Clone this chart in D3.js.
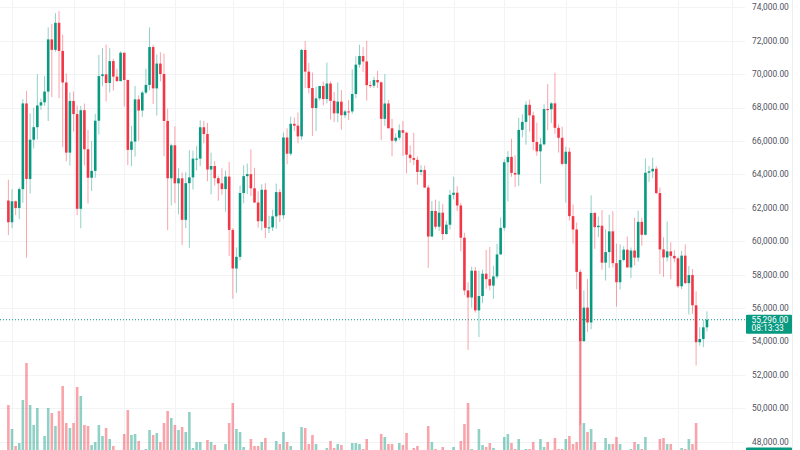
<!DOCTYPE html>
<html>
<head>
<meta charset="utf-8">
<script src="https://cdn.jsdelivr.net/npm/d3@7"></script>
<style>
  html, body { margin: 0; padding: 0; background: #ffffff; }
  svg { display: block; font-family: Roboto, "Noto Sans", sans-serif; }
</style>
</head>
<body>
<svg id="chart" width="800" height="450"></svg>
<script>
// BTC daily candles, Feb 29 -> Sep 9 (2024)
const firstDay = new Date(Date.UTC(2024, 1, 29));

const open = [62432,
  61130, 62387, 61987, 63113, 68245, 63724, 66074, 66823, 68124, 68313, 68955, 72078, 71452, 73072, 71388, 69499,
  65300, 68393, 67609, 61937, 67840, 65501, 63796, 64209, 67211, 69881, 69988, 69469, 70780, 69850, 69582,
  71280, 69649, 65463, 65964, 68488, 67821, 68897, 69353, 71620, 69146, 70631, 70007, 67195, 63765, 65738,
  63462, 63763, 61277, 63470, 63818, 64940, 64941, 66819, 66414, 64289, 64498, 63770, 63461, 63118, 63866,
  60672, 58364, 59060, 62882, 63892, 64012, 63165, 62313, 61193, 63075, 60799, 60825, 61484, 62937, 61552,
  66206, 65235, 67024, 66915, 66274, 71446, 70148, 69166, 67969, 68549, 69290, 68507, 69436, 68398, 67652, 68352,
  67540, 67766, 67765, 68809, 70567, 71082, 70757, 69342, 69305, 69648, 69508, 67322, 68241, 66756, 66012,
  66191, 66639, 66490, 65175, 64974, 64869, 64143, 64262, 63211, 60277, 61806, 60864, 61706, 60427, 60986,
  62772, 62899, 62135, 60208, 57050, 56628, 58230, 55857, 56714, 58050, 57725, 57339, 57889, 59204, 60797,
  64724, 65043, 64087, 63987, 66660, 67139, 68165, 67532, 65936, 65376, 65799, 67907, 67896, 68249, 66784, 66188,
  64628, 65354, 61498, 60697, 58161, 54018, 56022, 55134, 61685, 60837, 60923, 58712, 59346, 60587, 58683,
  57541, 58874, 59491, 58427, 59439, 59014, 61157, 60381, 64095, 64179, 64333, 62880, 59504, 59027, 59388, 59119,
  58969, 57301, 59132, 57487, 57970, 56160, 53950, 54140, 54842];

const high = [63676,
  63114, 62433, 63231, 68499, 69000, 67637, 67980, 69990, 68541, 69887, 72800, 73000, 73650, 73777, 72357, 70043,
  68905, 68956, 68124, 68100, 68240, 66650, 65999, 67628, 71150, 71561, 71769, 71552, 70916, 70321, 71366,
  71288, 69674, 66903, 69292, 68725, 69000, 70327, 72797, 71758, 71172, 71305, 71227, 67932, 65840, 66868,
  64365, 64118, 64125, 65450, 65419, 65695, 67233, 67199, 67075, 65297, 64792, 63923, 64370, 64228, 64735,
  60780, 59625, 63320, 64545, 64646, 65500, 64390, 62984, 63400, 63469, 61515, 61888, 63450, 63118, 66500,
  66752, 67451, 67400, 67700, 71515, 71979, 70666, 70096, 69250, 69220, 69562, 70687, 69561, 68935, 69500, 69044,
  67860, 68460, 70288, 71063, 71758, 71625, 71997, 69582, 69845, 70195, 69565, 69999, 68449, 67320, 66450,
  66988, 67188, 66556, 65727, 66482, 65066, 64546, 64520, 63369, 62400, 62487, 62389, 62225, 61224, 63058,
  63861, 63288, 62285, 60499, 57546, 58475, 58449, 58236, 58296, 59470, 59650, 58526, 59850, 61420, 64900,
  65388, 66128, 65133, 67386, 67598, 68366, 68474, 67750, 67102, 66175, 68200, 69399, 68318, 70079, 66985, 66849,
  65659, 65596, 62198, 61117, 58305, 57040, 57736, 62745, 61744, 61470, 61858, 60711, 61578, 61800, 59849,
  59817, 59700, 60284, 59618, 61400, 61820, 61400, 64955, 64494, 65000, 64481, 63213, 60236, 61184, 59928, 59462,
  59062, 59425, 59809, 58519, 58327, 56995, 54850, 55300, 55800];

const low = [60364,
  60777, 61561, 61320, 62300, 59005, 62848, 65551, 66082, 67861, 68094, 67194, 68620, 71334, 68555, 65630, 64780,
  64526, 66566, 61555, 60775, 64529, 62260, 63000, 63794, 66385, 69280, 68359, 68903, 69009, 69540, 69562,
  68062, 64550, 64493, 65064, 66011, 67440, 68800, 69040, 68210, 67518, 69567, 65086, 60660, 62134, 62274,
  61600, 59768, 60775, 59600, 63090, 64237, 64500, 65864, 63589, 62794, 63322, 62424, 62781, 61765, 59120,
  56552, 56911, 58848, 62274, 62822, 62700, 62300, 60800, 60648, 60187, 60487, 60610, 60749, 61143, 61330,
  64602, 65106, 66600, 65857, 66061, 69162, 68843, 66300, 66600, 68422, 68128, 68250, 67279, 67124, 67118, 66670,
  67387, 67257, 67612, 68567, 70383, 70119, 68420, 69168, 69161, 69172, 66051, 66902, 66764, 65078, 65900,
  66060, 65104, 64060, 64694, 64559, 63379, 63943, 63178, 58402, 60260, 60712, 60606, 60063, 60383, 60712,
  62497, 61806, 59400, 56771, 53485, 56018, 55724, 54260, 56289, 57157, 57050, 56542, 57757, 59204, 60632,
  62373, 63854, 63238, 63300, 66222, 65777, 66559, 65441, 65111, 63456, 65722, 66650, 67067, 66428, 65302, 64530,
  62302, 61236, 59850, 57122, 49000, 53962, 54558, 54730, 59535, 60242, 58286, 57642, 58392, 58433, 56078,
  57098, 58785, 58408, 57787, 58548, 58783, 59724, 60345, 63540, 63773, 62800, 58034, 57860, 58786, 57726, 58744,
  57201, 57128, 57415, 55606, 55643, 52550, 53745, 53653, 54600];

const close = [61130,
  62387, 61987, 63113, 68245, 63724, 66074, 66823, 68124, 68313, 68955, 72078, 71452, 73072, 71388, 69499, 65300,
  68393, 67609, 61937, 67840, 65501, 63796, 64209, 67211, 69881, 69988, 69469, 70780, 69850, 69582, 71280,
  69649, 65463, 65964, 68488, 67821, 68897, 69353, 71620, 69146, 70631, 70007, 67195, 63765, 65738, 63462,
  63763, 61277, 63470, 63818, 64940, 64941, 66819, 66414, 64289, 64498, 63770, 63461, 63118, 63866, 60672,
  58364, 59060, 62882, 63892, 64012, 63165, 62313, 61193, 63075, 60799, 60825, 61484, 62937, 61552, 66206,
  65235, 67024, 66915, 66274, 71446, 70148, 69166, 67969, 68549, 69290, 68507, 69436, 68398, 67652, 68352, 67540,
  67766, 67765, 68809, 70567, 71082, 70757, 69342, 69305, 69648, 69508, 67322, 68241, 66756, 66012, 66191,
  66639, 66490, 65175, 64974, 64869, 64143, 64262, 63211, 60277, 61806, 60864, 61706, 60427, 60986, 62772,
  62899, 62135, 60208, 57050, 56628, 58230, 55857, 56714, 58050, 57725, 57339, 57889, 59204, 60797, 64724,
  65043, 64087, 63987, 66660, 67139, 68165, 67532, 65936, 65376, 65799, 67907, 67896, 68249, 66784, 66188, 64628,
  65354, 61498, 60697, 58161, 54018, 56022, 55134, 61685, 60837, 60923, 58712, 59346, 60587, 58683, 57541,
  58874, 59491, 58427, 59439, 59014, 61157, 60381, 64095, 64179, 64333, 62880, 59504, 59027, 59388, 59119, 58969,
  57301, 59132, 57487, 57970, 56160, 53950, 54140, 54842, 55296];

// volume, thousand BTC
const volume = [65,
  41, 24, 27, 70, 107, 65, 45, 62, 16, 34, 62, 57, 44, 59, 84, 47,
  42, 47, 83, 74, 45, 44, 25, 28, 45, 34, 42, 31, 24, 15, 17,
  36, 60, 35, 36, 29, 14, 21, 40, 35, 37, 28, 47, 59, 52, 45,
  40, 43, 38, 58, 22, 28, 28, 18, 30, 28, 25, 18, 15, 26, 47,
  67, 41, 38, 23, 17, 31, 24, 24, 28, 32, 12, 12, 29, 26, 38,
  28, 24, 12, 14, 43, 42, 26, 35, 26, 12, 14, 22, 29, 22, 26, 25,
  10, 12, 27, 27, 26, 21, 31, 10, 10, 15, 36, 33, 26, 26, 10,
  27, 25, 37, 15, 22, 24, 10, 15, 44, 28, 21, 16, 23, 10, 16,
  23, 16, 29, 46, 67, 21, 17, 41, 25, 23, 27, 22, 14, 17, 33,
  36, 27, 21, 31, 14, 21, 21, 28, 17, 31, 23, 28, 12, 32, 21, 21,
  31, 34, 26, 28, 132, 47, 38, 41, 28, 12, 16, 32, 26, 26, 33,
  26, 10, 15, 21, 28, 26, 21, 33, 14, 12, 17, 31, 32, 26, 26, 10,
  17, 22, 21, 31, 26, 47, 14, 15, 12];

const priceTicks = d3.range(48000, 74001, 2000);
const timeGrid = ['2024-03-01', '2024-03-18', '2024-04-01', '2024-04-15', '2024-05-01', '2024-05-15',
  '2024-06-01', '2024-06-17', '2024-07-01', '2024-07-15', '2024-08-01', '2024-08-15', '2024-09-01', '2024-09-16'];
const lastPrice = 55296;
const countdown = '08:13:33';

const upColor = '#089981';
const downColor = '#f23645';

const candles = close.map((c, i) => ({
    date: d3.utcDay.offset(firstDay, i),
    open: open[i], high: high[i], low: low[i], close: c, volume: volume[i]
}));

const width = 800, height = 450;
const plotRight = 745;
const svg = d3.select('#chart');

svg.append('rect').attr('width', width).attr('height', height).attr('fill', '#ffffff');

const x = d3.scaleUtc()
    .domain([new Date(Date.UTC(2024, 2, 1)), new Date(Date.UTC(2024, 8, 1))])
    .range([12, 678]);

const y = d3.scaleLinear()
    .domain([48000, 74000])
    .range([441.6, 7.3]);

// volume pane sits at the bottom, its base is below the visible area
const yVol = d3.scaleLinear()
    .domain([0, 140])
    .range([470, 330]);

// grid
const grid = svg.append('g');
grid.selectAll('.hgrid')
    .data(priceTicks)
    .enter()
    .append('line')
    .attr('x1', 0).attr('x2', plotRight)
    .attr('y1', d => Math.round(y(d)) + 0.5)
    .attr('y2', d => Math.round(y(d)) + 0.5)
    .attr('stroke', '#f2f3f5');

grid.selectAll('.vgrid')
    .data(timeGrid.map(s => new Date(s + 'T00:00:00Z')))
    .enter()
    .append('line')
    .attr('x1', d => Math.round(x(d)) + 0.5)
    .attr('x2', d => Math.round(x(d)) + 0.5)
    .attr('y1', 0).attr('y2', height)
    .attr('stroke', '#f2f3f5');

const bw = 2.6;

// volume bars
svg.append('g')
    .selectAll('rect')
    .data(candles)
    .enter()
    .append('rect')
    .attr('x', d => x(d.date) - bw / 2)
    .attr('width', bw)
    .attr('y', d => yVol(d.volume))
    .attr('height', d => yVol(0) - yVol(d.volume))
    .attr('fill', d => d.close >= d.open ? upColor : downColor)
    .attr('fill-opacity', 0.45);

// last price line
svg.append('line')
    .attr('x1', 0).attr('x2', plotRight)
    .attr('y1', y(lastPrice)).attr('y2', y(lastPrice))
    .attr('stroke', upColor)
    .attr('stroke-width', 1)
    .attr('stroke-dasharray', '1,2');

// candles
const candle = svg.append('g')
    .selectAll('g')
    .data(candles)
    .enter()
    .append('g');

candle.append('line')
    .attr('x1', d => x(d.date))
    .attr('x2', d => x(d.date))
    .attr('y1', d => y(d.high))
    .attr('y2', d => y(d.low))
    .attr('stroke', d => d.close >= d.open ? upColor : downColor)
    .attr('stroke-opacity', 0.45)
    .attr('stroke-width', 1);

candle.append('rect')
    .attr('x', d => x(d.date) - bw / 2)
    .attr('width', bw)
    .attr('y', d => y(Math.max(d.open, d.close)))
    .attr('height', d => Math.max(1, Math.abs(y(d.open) - y(d.close))))
    .attr('fill', d => d.close >= d.open ? upColor : downColor);

// price scale
const fmt = d3.format(',.2f');
svg.append('g')
    .selectAll('text')
    .data(priceTicks)
    .enter()
    .append('text')
    .attr('x', 752)
    .attr('y', d => y(d))
    .attr('dy', '0.35em')
    .style('font-size', '8.4px')
    .style('fill', '#50535e')
    .text(d => fmt(d));

svg.append('line')
    .attr('x1', 792.5).attr('x2', 792.5)
    .attr('y1', 0).attr('y2', height)
    .attr('stroke', '#eeeeee');

// last price badge
const badge = svg.append('g');
badge.append('rect')
    .attr('x', 746).attr('y', y(lastPrice) - 5)
    .attr('width', 46).attr('height', 19)
    .attr('rx', 1)
    .attr('fill', upColor);
badge.append('text')
    .attr('x', 751.5).attr('y', y(lastPrice) + 3)
    .style('font-size', '8.4px')
    .style('fill', '#ffffff')
    .text(fmt(lastPrice));
badge.append('text')
    .attr('x', 751.5).attr('y', y(lastPrice) + 11.5)
    .style('font-size', '8.4px')
    .style('fill', '#ffffff')
    .text(countdown);

// volume badge, mostly cut off by the bottom edge
svg.append('rect')
    .attr('x', 746).attr('y', 447.5)
    .attr('width', 46).attr('height', 14)
    .attr('rx', 1)
    .attr('fill', upColor);
</script>
</body>
</html>
